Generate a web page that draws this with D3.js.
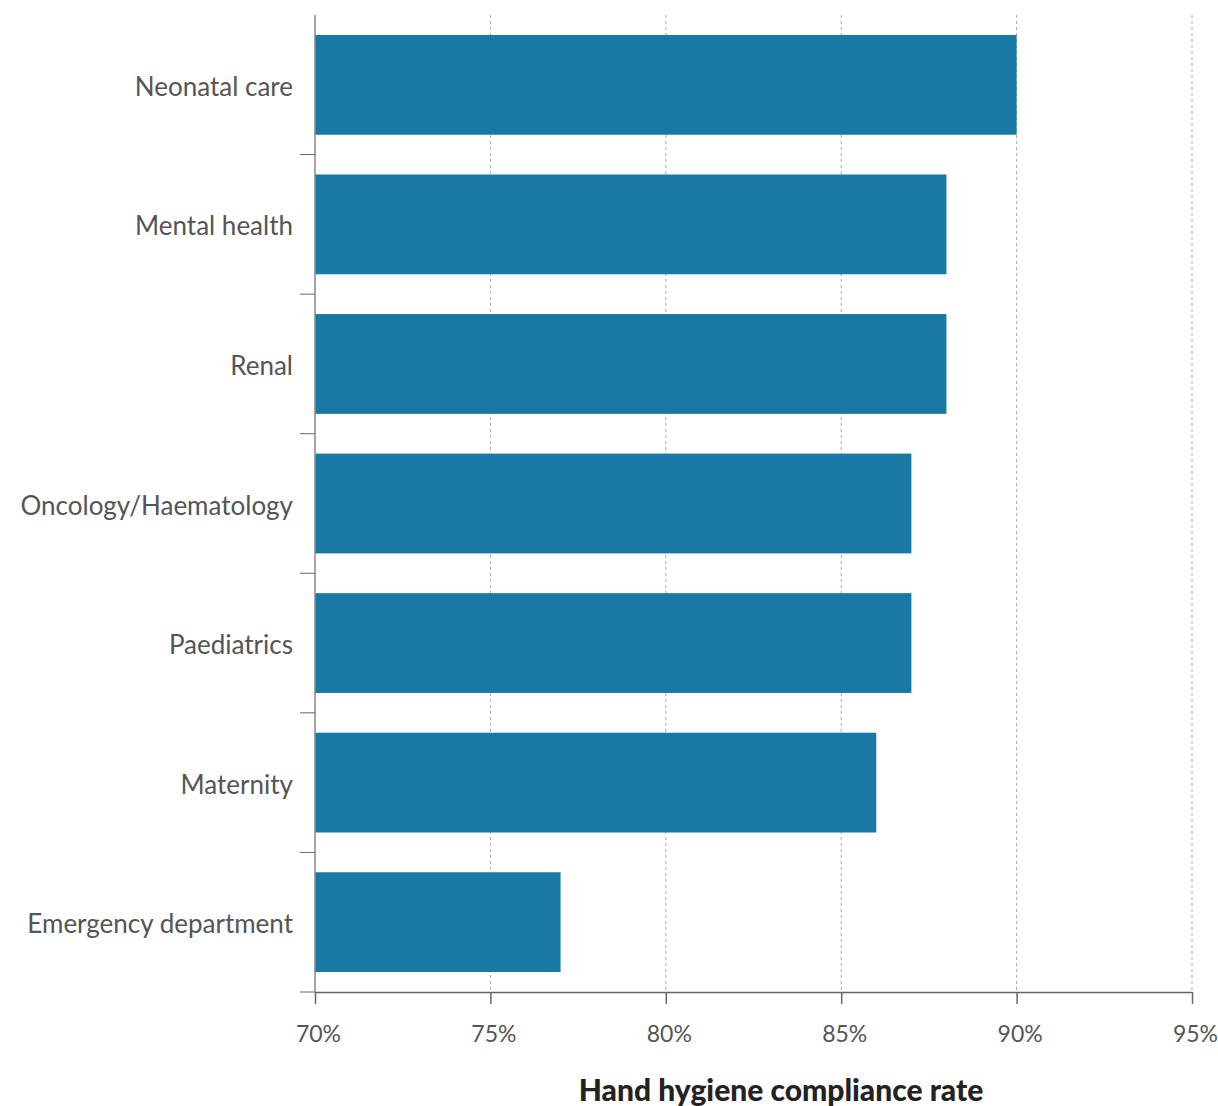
<!DOCTYPE html>
<html>
<head>
<meta charset="utf-8">
<script src="https://cdn.jsdelivr.net/npm/d3@7/dist/d3.min.js"></script>
<style>
  html, body { margin: 0; padding: 0; background: #fff; }
  svg { display: block; }
  .cat-label { font-family: Lato, "Open Sans", sans-serif; font-size: 26px; fill: #555; }
  .tick-label { font-family: Lato, "Open Sans", sans-serif; font-size: 23px; fill: #555; }
  .axis-title { font-family: Lato, "Open Sans", sans-serif; font-size: 30px; font-weight: 900; fill: #222; }
</style>
</head>
<body>
<script>
// Hand hygiene compliance by clinical area
const categories = [
  "Neonatal care",
  "Mental health",
  "Renal",
  "Oncology/Haematology",
  "Paediatrics",
  "Maternity",
  "Emergency department"
];
const values = [90, 88, 88, 87, 87, 86, 77];
const xTicks = [70, 75, 80, 85, 90, 95];
const xTitle = "Hand hygiene compliance rate";

const W = 1218, H = 1106;
const margin = { top: 15, right: 26, bottom: 114, left: 315 };

const svg = d3.select("body").append("svg")
  .attr("width", W).attr("height", H);

const x = d3.scaleLinear()
  .domain([70, 95])
  .range([margin.left, W - margin.right]);

const y = d3.scaleBand()
  .domain(categories)
  .range([margin.top, H - margin.bottom])
  .paddingInner(0.285)
  .paddingOuter(0.143);

const y0 = margin.top, y1 = H - margin.bottom;

// dotted vertical gridlines
svg.append("g")
  .selectAll("line")
  .data(xTicks.slice(1))
  .join("line")
  .attr("x1", d => x(d)).attr("x2", d => x(d))
  .attr("y1", y0).attr("y2", y1)
  .attr("stroke", "#aaa")
  .attr("stroke-width", 1)
  .attr("stroke-dasharray", "3,3");

// bars
svg.append("g")
  .selectAll("rect")
  .data(categories.map((c, i) => ({ c, v: values[i] })))
  .join("rect")
  .attr("x", x(70))
  .attr("y", d => y(d.c))
  .attr("width", d => x(d.v) - x(70))
  .attr("height", y.bandwidth())
  .attr("fill", "#1978a4");

// y axis: line plus ticks at band boundaries
const boundaries = d3.range(1, categories.length + 1).map(i => y0 + (y1 - y0) * i / categories.length);
svg.append("line")
  .attr("x1", margin.left).attr("x2", margin.left)
  .attr("y1", y0).attr("y2", y1)
  .attr("stroke", "#888").attr("stroke-width", 1.5);
svg.append("g")
  .selectAll("line")
  .data(boundaries)
  .join("line")
  .attr("x1", margin.left - 15).attr("x2", margin.left)
  .attr("y1", d => d).attr("y2", d => d)
  .attr("stroke", "#666").attr("stroke-width", 1);

// category labels
svg.append("g")
  .selectAll("text")
  .data(categories)
  .join("text")
  .attr("class", "cat-label")
  .attr("x", margin.left - 22)
  .attr("y", d => y(d) + y.bandwidth() / 2 + 2)
  .attr("dy", "0.35em")
  .attr("text-anchor", "end")
  .text(d => d);

// x axis
const xAxis = svg.append("g")
  .attr("transform", `translate(0,${y1})`)
  .call(d3.axisBottom(x).tickValues(xTicks).tickSize(12).tickSizeOuter(0).tickFormat(d => d + "%"));
xAxis.select(".domain").attr("stroke", "#666").attr("stroke-width", 1.5);
xAxis.selectAll(".tick line").attr("stroke", "#666").attr("stroke-width", 1.5);
xAxis.selectAll(".tick text")
  .attr("class", "tick-label")
  .attr("y", 34)
  .attr("dx", 3)
  .attr("fill", null);

// axis title
svg.append("text")
  .attr("class", "axis-title")
  .attr("x", 781)
  .attr("y", 1101)
  .attr("text-anchor", "middle")
  .text(xTitle);
</script>
</body>
</html>
